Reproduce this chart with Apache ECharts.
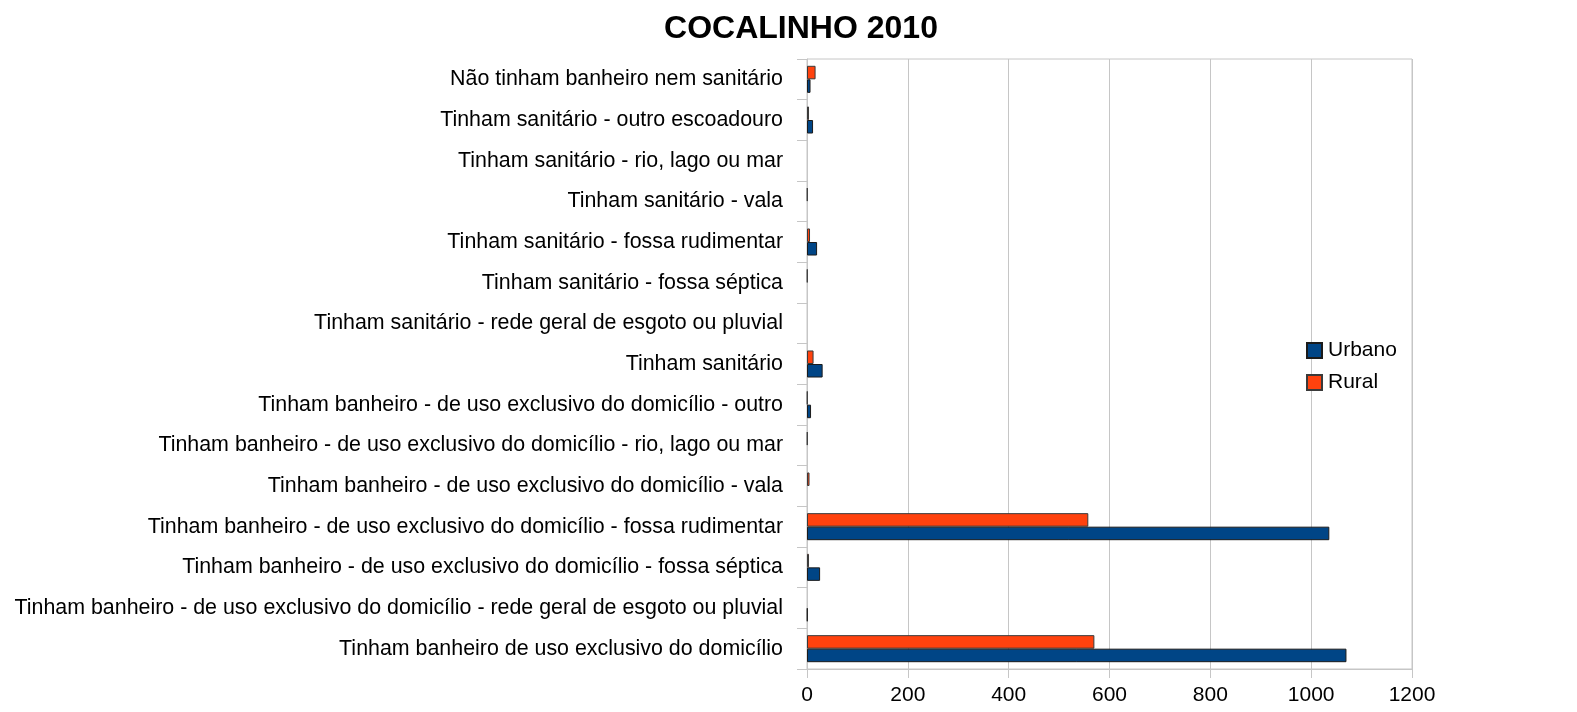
<!DOCTYPE html>
<html>
<head>
<meta charset="utf-8">
<title>COCALINHO 2010</title>
<script src="https://cdn.jsdelivr.net/npm/echarts@6/dist/echarts.min.js"></script>
<style>
  html, body { margin: 0; padding: 0; background: #ffffff; }
  #chart { width: 1577px; height: 712px; }
</style>
</head>
<body>
<div id="chart"></div>
<script>
// Categories listed from the bottom of the chart to the top
const categories = [
  'Tinham banheiro de uso exclusivo do domicílio',
  'Tinham banheiro - de uso exclusivo do domicílio - rede geral de esgoto ou pluvial',
  'Tinham banheiro - de uso exclusivo do domicílio - fossa séptica',
  'Tinham banheiro - de uso exclusivo do domicílio - fossa rudimentar',
  'Tinham banheiro - de uso exclusivo do domicílio - vala',
  'Tinham banheiro - de uso exclusivo do domicílio - rio, lago ou mar',
  'Tinham banheiro - de uso exclusivo do domicílio - outro',
  'Tinham sanitário',
  'Tinham sanitário - rede geral de esgoto ou pluvial',
  'Tinham sanitário - fossa séptica',
  'Tinham sanitário - fossa rudimentar',
  'Tinham sanitário - vala',
  'Tinham sanitário - rio, lago ou mar',
  'Tinham sanitário - outro escoadouro',
  'Não tinham banheiro nem sanitário'
];

// Number of households per category
const urbano = [1070, 1, 26, 1036, 0, 0, 8, 31, 0, 0, 20, 0, 0, 12, 7];
const rural  = [570, 0, 4, 558, 5, 1, 1, 13, 0, 1, 6, 1, 0, 4, 17];

const xTicks = [0, 200, 400, 600, 800, 1000, 1200];

const FONT = '"Liberation Sans", Arial, sans-serif';
const GRID_GREY = '#c6c6c6';

// Empty cells are left without a bar
const asBars = values => values.map(v => (v === 0 ? '-' : v));

const chart = echarts.init(document.getElementById('chart'), null, { renderer: 'canvas' });

chart.setOption({
  animation: false,
  backgroundColor: '#ffffff',
  textStyle: { fontFamily: FONT },
  title: {
    text: 'COCALINHO 2010',
    left: 796,
    top: 8,
    textAlign: 'center',
    textStyle: { fontFamily: FONT, fontSize: 32, fontWeight: 'bold', color: '#000000' }
  },
  legend: {
    orient: 'vertical',
    left: 1301,
    top: 335,
    itemWidth: 15,
    itemHeight: 15,
    itemGap: 11,
    icon: 'rect',
    data: ['Urbano', 'Rural'],
    textStyle: { fontFamily: FONT, fontSize: 21, color: '#000000', padding: [0, 0, 0, 1] }
  },
  grid: {
    left: 807,
    right: 165,
    top: 59,
    bottom: 43,
    show: true,
    borderColor: GRID_GREY,
    borderWidth: 1,
    containLabel: false
  },
  xAxis: {
    type: 'value',
    min: xTicks[0],
    max: xTicks[xTicks.length - 1],
    interval: 200,
    axisLine: { show: true, lineStyle: { color: GRID_GREY, width: 1 } },
    axisTick: { show: true, length: 9, lineStyle: { color: GRID_GREY } },
    splitLine: { show: true, lineStyle: { color: GRID_GREY, width: 1 } },
    axisLabel: {
      fontFamily: FONT, fontSize: 21, color: '#000000', margin: 16,
      formatter: v => String(v)
    }
  },
  yAxis: {
    type: 'category',
    data: categories,
    axisLine: { show: true, lineStyle: { color: GRID_GREY, width: 1 } },
    axisTick: { show: true, length: 10, alignWithLabel: false, lineStyle: { color: GRID_GREY } },
    splitLine: { show: false },
    axisLabel: { fontFamily: FONT, fontSize: 21.4, color: '#000000', margin: 24, interval: 0 }
  },
  series: [
    {
      name: 'Rural',
      type: 'bar',
      data: asBars(rural),
      barGap: '0%',
      barCategoryGap: '33.5%',
      itemStyle: { color: '#ff420e', borderColor: '#3a3a3a', borderWidth: 1 }
    },
    {
      name: 'Urbano',
      type: 'bar',
      data: asBars(urbano),
      barGap: '0%',
      barCategoryGap: '33.5%',
      itemStyle: { color: '#004586', borderColor: '#1b1b1b', borderWidth: 1 }
    }
  ]
});
</script>
</body>
</html>
